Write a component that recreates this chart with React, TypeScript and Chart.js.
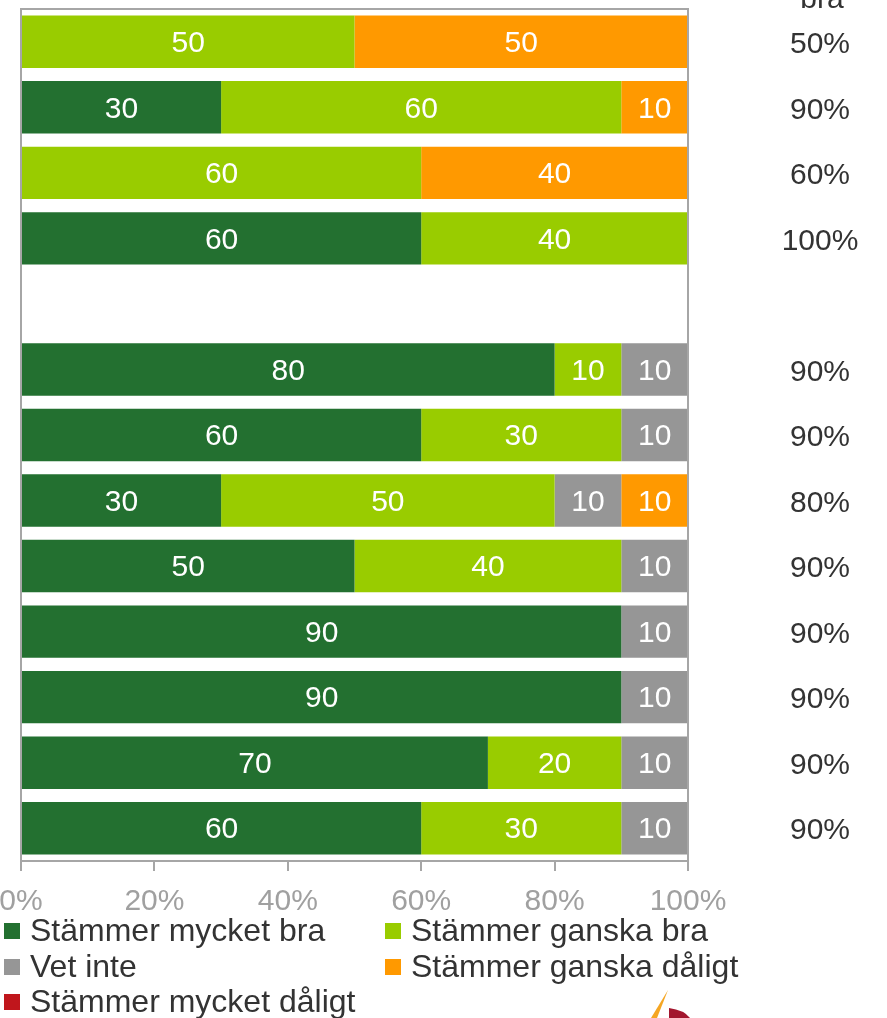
import React, { useEffect, useRef } from "react";
import { Chart, registerables } from "chart.js";
Chart.register(...registerables);

const categories = ["", "", "", "", "", "", "", "", "", "", "", "", ""];
const seriesNames = [
  "Stämmer mycket bra",
  "Stämmer ganska bra",
  "Vet inte",
  "Stämmer ganska dåligt",
  "Stämmer mycket dåligt",
];
const seriesColors = ["#237030", "#99CC00", "#969696", "#FF9900", "#C0161C"];
const mycketBra = [0, 30, 0, 60, 0, 80, 60, 30, 50, 90, 90, 70, 60];
const ganskaBra = [50, 60, 60, 40, 0, 10, 30, 50, 40, 0, 0, 20, 30];
const vetInte = [0, 0, 0, 0, 0, 10, 10, 10, 10, 10, 10, 10, 10];
const ganskaDaligt = [50, 10, 40, 0, 0, 0, 0, 10, 0, 0, 0, 0, 0];
const mycketDaligt = [0, 0, 0, 0, 0, 0, 0, 0, 0, 0, 0, 0, 0];
const rightLabels = ["50%", "90%", "60%", "100%", "", "90%", "90%", "80%", "90%", "90%", "90%", "90%", "90%"];
const rightHeader = "bra";
const xTicks = [0, 20, 40, 60, 80, 100];

const FONT = "'Liberation Sans', Arial, sans-serif";

const overlayPlugin = {
  id: "overlay",
  afterDatasetsDraw(chart: any) {
    const ctx = chart.ctx;
    const area = chart.chartArea;
    ctx.save();
    // frame
    ctx.strokeStyle = "#a6a6a6";
    ctx.lineWidth = 2;
    ctx.beginPath();
    ctx.moveTo(area.left, area.bottom);
    ctx.lineTo(area.left, area.top);
    ctx.lineTo(area.right, area.top);
    ctx.lineTo(area.right, area.bottom);
    ctx.stroke();
    // data labels
    ctx.font = `30px ${FONT}`;
    ctx.fillStyle = "#ffffff";
    ctx.textAlign = "center";
    ctx.textBaseline = "middle";
    chart.data.datasets.forEach((ds: any, di: number) => {
      const meta = chart.getDatasetMeta(di);
      meta.data.forEach((el: any, i: number) => {
        const v = ds.data[i];
        if (!v) return;
        const cx = (el.x + el.base) / 2;
        ctx.fillText(String(v), cx, el.y + 2);
      });
    });
    // right labels
    const ys = chart.scales.y;
    ctx.fillStyle = "#333333";
    rightLabels.forEach((t, i) => {
      if (!t) return;
      ctx.fillText(t, 820, ys.getPixelForValue(i) + 3);
    });
    ctx.textBaseline = "alphabetic";
    ctx.fillText(rightHeader, 822, 8);
    // legend
    ctx.font = `32px ${FONT}`;
    ctx.textAlign = "left";
    ctx.textBaseline = "middle";
    const pos = [
      [4, 931],
      [385, 931],
      [4, 967],
      [385, 967],
      [4, 1002],
    ];
    seriesNames.forEach((n, i) => {
      const [x, y] = pos[i];
      ctx.fillStyle = seriesColors[i];
      ctx.fillRect(x, y - 8, 16, 16);
      ctx.fillStyle = "#333333";
      ctx.fillText(n, x + 26, y + 1);
    });
    // partial logo
    ctx.fillStyle = "#F5A623";
    ctx.beginPath();
    ctx.moveTo(668, 990);
    ctx.lineTo(657, 1018);
    ctx.lineTo(651, 1018);
    ctx.closePath();
    ctx.fill();
    ctx.fillStyle = "#A3162E";
    ctx.beginPath();
    ctx.moveTo(669, 1008);
    ctx.quadraticCurveTo(684, 1010, 690, 1018);
    ctx.lineTo(669, 1018);
    ctx.closePath();
    ctx.fill();
    ctx.restore();
  },
};

export default function App() {
  const ref = useRef<HTMLCanvasElement | null>(null);
  useEffect(() => {
    document.body.style.margin = "0";
    const datasets = [mycketBra, ganskaBra, vetInte, ganskaDaligt, mycketDaligt].map((d, i) => ({
      label: seriesNames[i],
      data: d,
      backgroundColor: seriesColors[i],
      borderWidth: 0,
      barPercentage: 0.8,
      categoryPercentage: 1,
    }));
    const chart = new Chart(ref.current as HTMLCanvasElement, {
      type: "bar",
      data: { labels: categories, datasets },
      options: {
        indexAxis: "y",
        animation: false,
        responsive: false,
        maintainAspectRatio: false,
        layout: { padding: { left: 21, top: 9, right: 199, bottom: 102 } },
        plugins: { legend: { display: false }, tooltip: { enabled: false }, title: { display: false } },
        scales: {
          x: {
            stacked: true,
            min: 0,
            max: 100,
            afterFit: (s: any) => {
              s.height = 55;
              s.paddingLeft = 0;
              s.paddingRight = 0;
            },
            afterBuildTicks: (s: any) => {
              s.ticks = xTicks.map((v) => ({ value: v }));
            },
            ticks: {
              callback: (v: any) => v + "%",
              color: "#a0a0a0",
              font: { size: 30, family: FONT },
              padding: 13,
              maxRotation: 0,
            },
            grid: { drawOnChartArea: false, drawTicks: true, tickLength: 10, color: "#a6a6a6", lineWidth: 2 },
            border: { display: true, color: "#a6a6a6", width: 2 },
          },
          y: {
            stacked: true,
            display: false,
          },
        },
      },
      plugins: [overlayPlugin],
    });
    return () => chart.destroy();
  }, []);
  return (
    <div style={{ position: "absolute", left: 0, top: 0, width: 887, height: 1018 }}>
      <canvas ref={ref} width={887} height={1018} style={{ display: "block" }} />
    </div>
  );
}
